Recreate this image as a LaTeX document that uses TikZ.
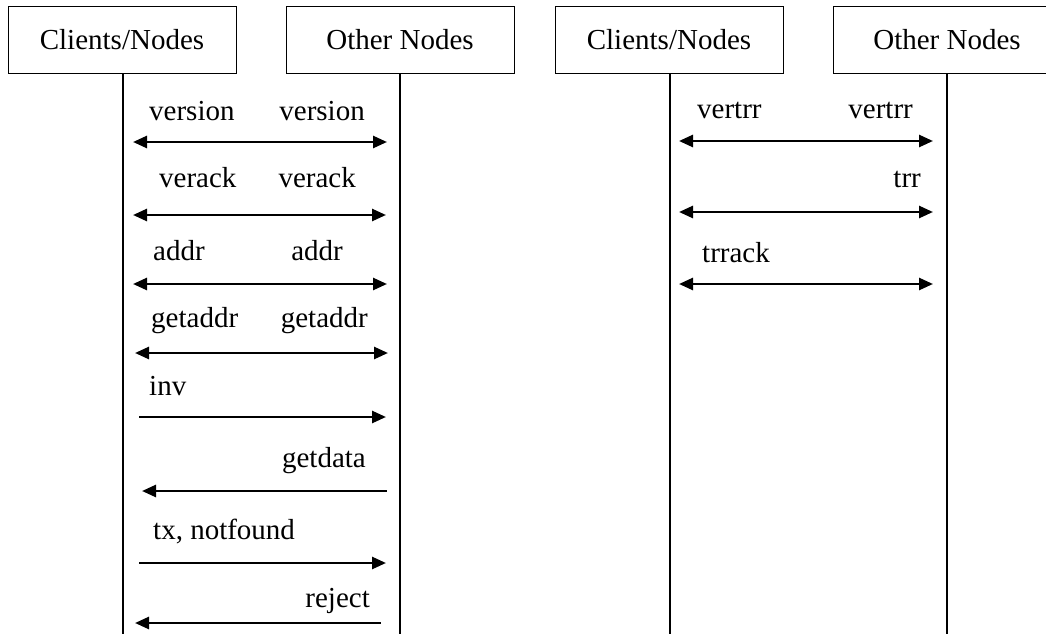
\documentclass[tikz,border=0pt]{standalone}
\usepackage{fontspec}
\setmainfont{Liberation Serif}
\usetikzlibrary{arrows.meta, positioning}

\begin{document}
\begin{tikzpicture}[
                x=1pt, y=-1pt,
                >={Triangle[length=14pt, width=12pt]},
                every node/.style={font=\fontsize{29}{34}\selectfont, inner sep=0pt},
                actor/.style={draw, line width=1pt, minimum width=228pt, minimum height=66pt},
                life/.style={line width=2pt},
                msg/.style={line width=2.6pt},
                lbl/.style={anchor=base west},
                rlbl/.style={anchor=base east}
              ]
              \useasboundingbox (0,0) rectangle (1046,634);

              % Actors
              \node[actor] (cn1) at (122,40) {Clients/Nodes};
              \node[actor] (on1) at (400,40) {Other Nodes};
              \node[actor] (cn2) at (669,40) {Clients/Nodes};
              \node[actor] (on2) at (947,40) {Other Nodes};

              % Lifelines
              \coordinate (cn1e) at (123,634);
              \coordinate (on1e) at (400,634);
              \coordinate (cn2e) at (670,634);
              \coordinate (on2e) at (947,634);
              \draw[life] (cn1.south -| cn1e) -- (cn1e);
              \draw[life] (on1.south -| on1e) -- (on1e);
              \draw[life] (cn2.south -| cn2e) -- (cn2e);
              \draw[life] (on2.south -| on2e) -- (on2e);

              % Messages, left
              \foreach \i/\y/\xa/\xb/\tip in {1/142/133/387/<->, 2/215/133/386/<->,
                  3/284/133/387/<->, 4/353/135/388/<->, 5/417/139/386/->,
                  6/491/142/387/<-, 7/563/139/386/->, 8/623/135/381/<-} {
                \coordinate (l\i) at (\xa,\y);
                \coordinate (r\i) at (\xb,\y);
                \draw[msg,\tip] (l\i) -- (r\i);
              }

              % Messages, right
              \foreach \i/\y in {1/141, 2/212, 3/284} {
                \coordinate (p\i) at (679,\y);
                \coordinate (q\i) at (933,\y);
                \draw[msg,<->] (p\i) -- (q\i);
              }

              % Labels, left
              \node[lbl] (version1) at (149,120) {version};
              \node[rlbl] (version2) at (365,120) {version};
              \node[lbl] (verack1) at (159,187) {verack};
              \node[rlbl] (verack2) at (356,187) {verack};
              \node[lbl] (addr1) at (153,260) {addr};
              \node[rlbl] (addr2) at (343,260) {addr};
              \node[lbl] (getaddr1) at (151,327) {getaddr};
              \node[rlbl] (getaddr2) at (368,327) {getaddr};
              \node[lbl] (inv) at (149,395) {inv};
              \node[rlbl] (getdata) at (366,467) {getdata};
              \node[lbl] (tx) at (153,539) {tx, notfound};
              \node[rlbl] (reject) at (370,607) {reject};

              % Labels, right
              \node[lbl] (vertrr1) at (697,118) {vertrr};
              \node[rlbl] (vertrr2) at (913,118) {vertrr};
              \node[rlbl] (trr) at (921,187) {trr};
              \node[lbl] (trrack) at (702,262) {trrack};
              \end{tikzpicture}
\end{document}
